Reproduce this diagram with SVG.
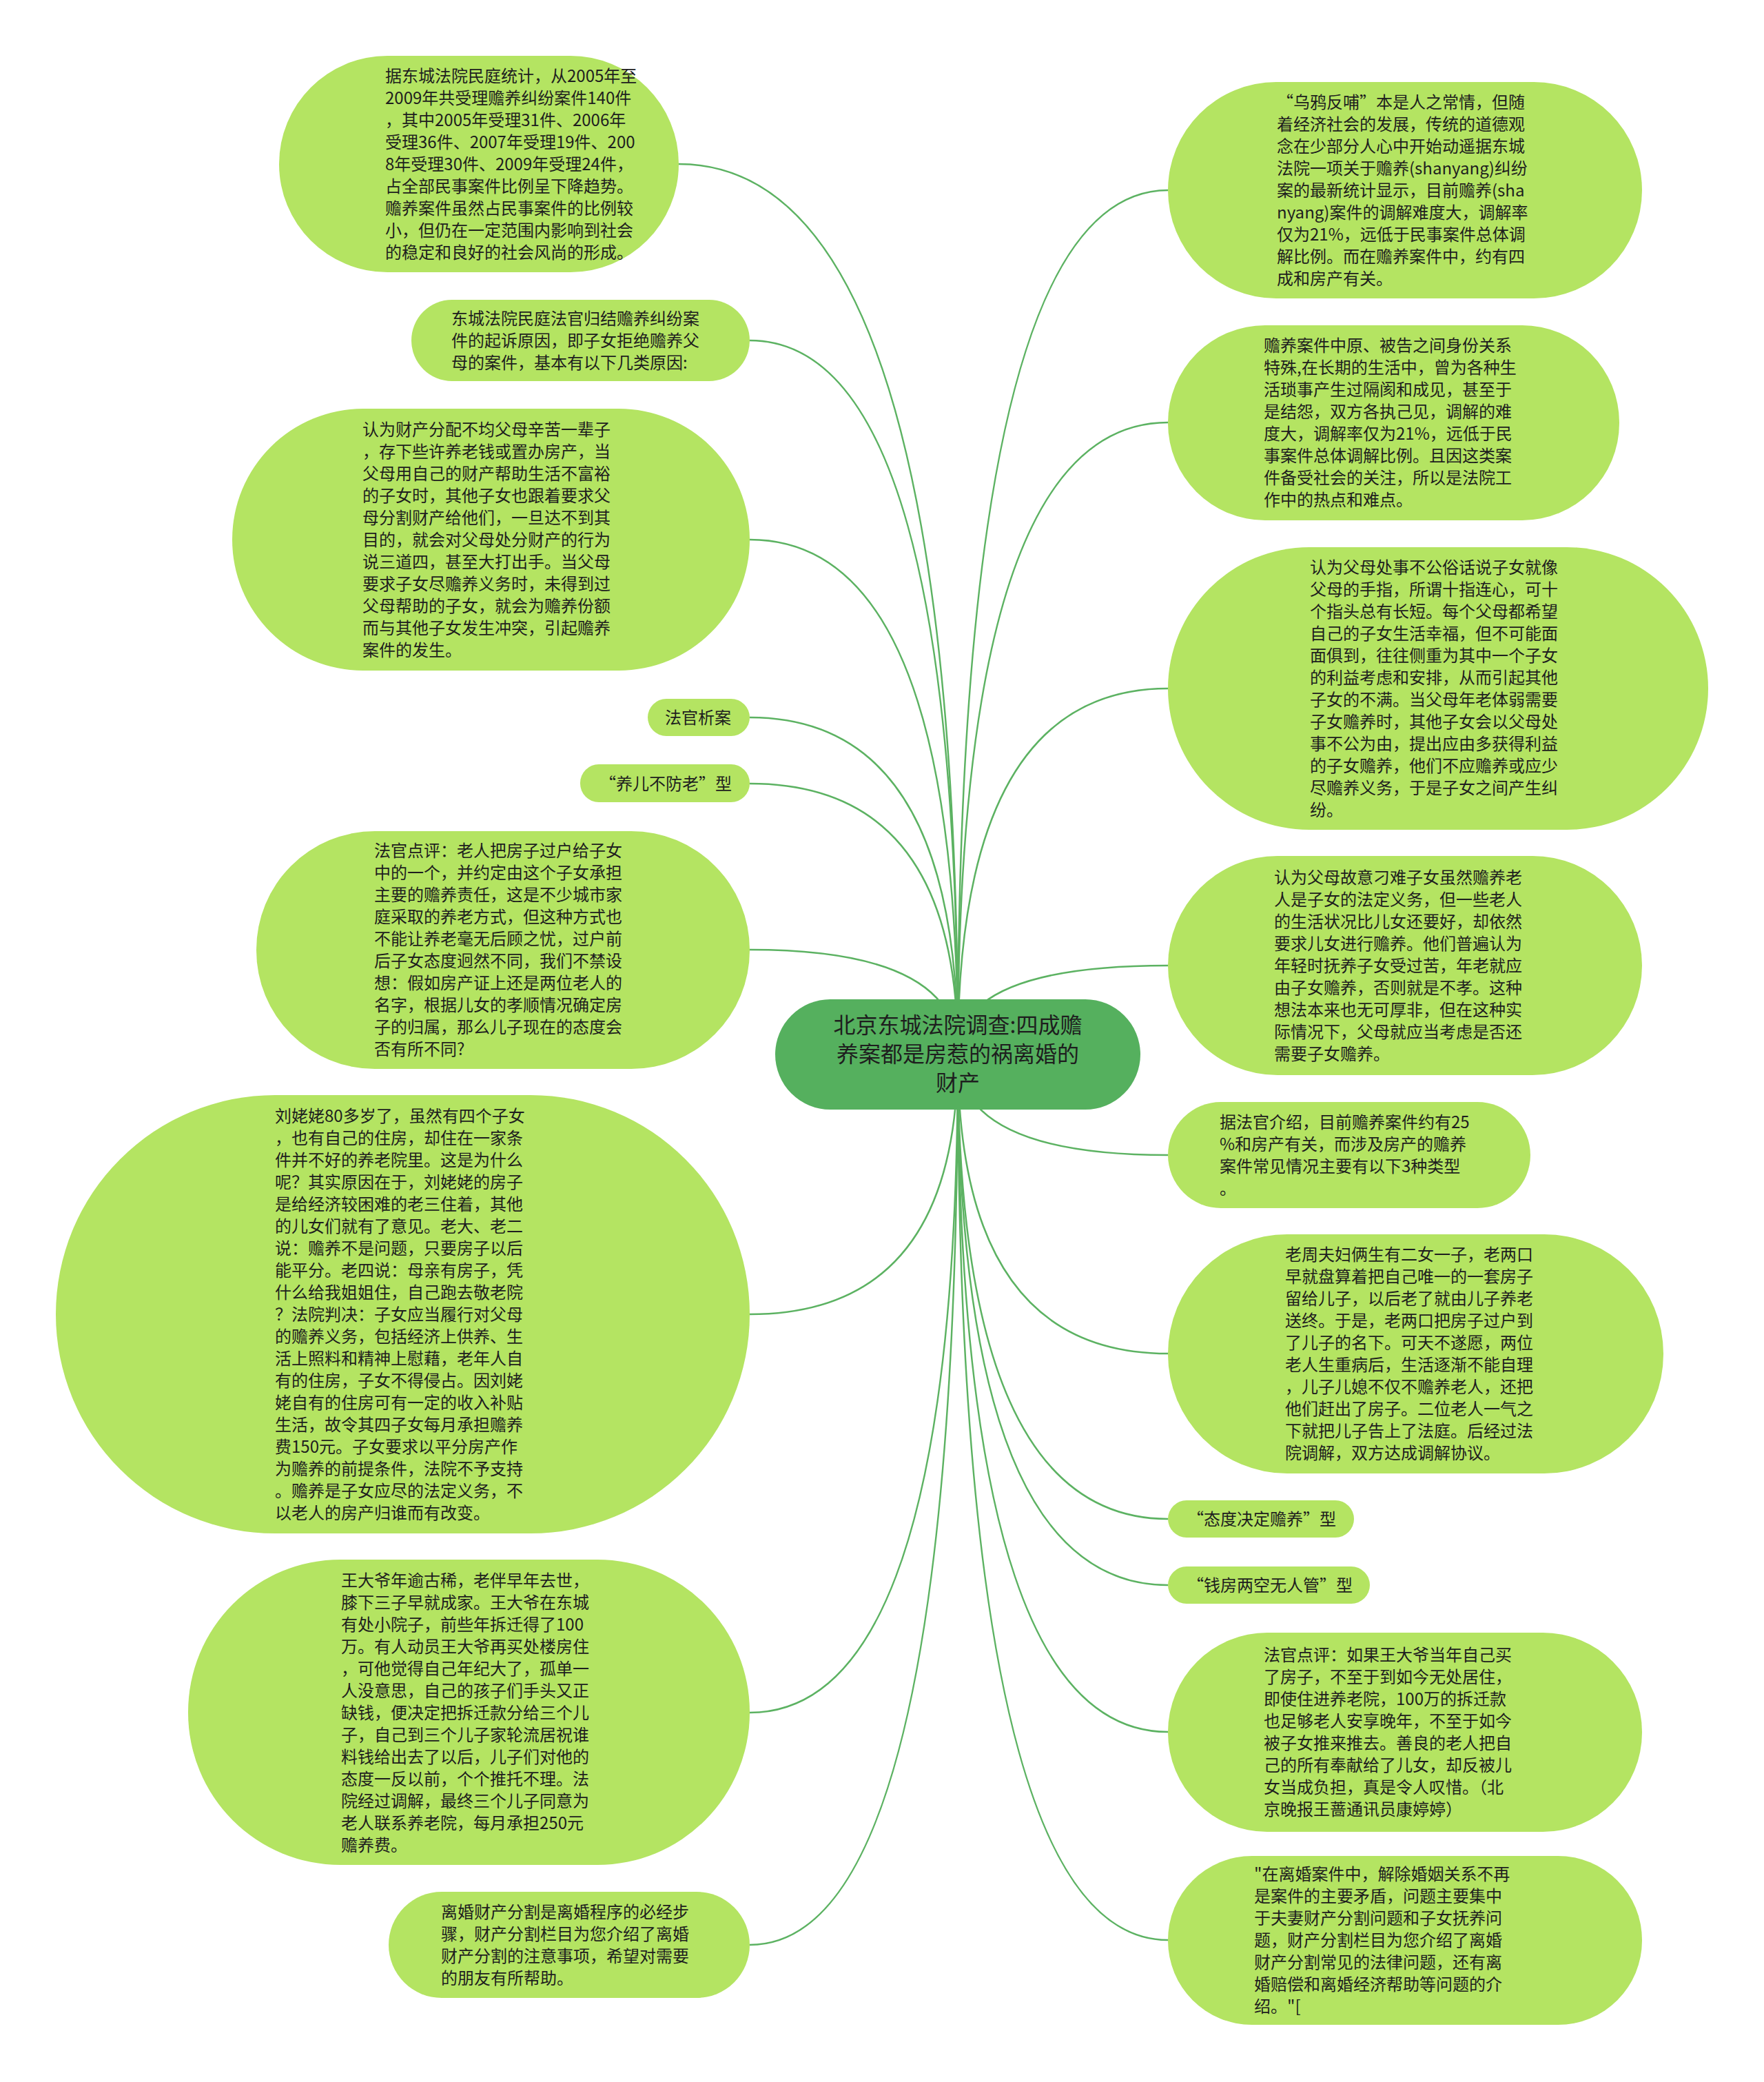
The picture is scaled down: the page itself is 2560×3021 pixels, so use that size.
<svg xmlns="http://www.w3.org/2000/svg" width="2560" height="3021" viewBox="0 0 2560 3021">
<style>
.bg{fill:#ffffff}
.n{fill:#b4e462}
.root{fill:#55b05e}
.t{font-family:"Noto Sans CJK SC","Noto Sans",sans-serif;font-size:24px;fill:#1e1e1e}
.rt{font-family:"Noto Sans CJK SC","Noto Sans",sans-serif;font-size:32px;fill:#1e1e1e;text-anchor:middle}
.e{fill:none;stroke:#5cb262;stroke-width:2.5}
</style>
<rect class="bg" x="0" y="0" width="2560" height="3021"/>
<g id="connectors">
<path class="e" d="M1390 1529 Q1390 238 985 238"/>
<path class="e" d="M1390 1529 Q1390 494 1088 494"/>
<path class="e" d="M1390 1529 Q1390 783 1088 783"/>
<path class="e" d="M1390 1529 Q1390 1041 1088 1041"/>
<path class="e" d="M1390 1529 Q1390 1137 1088 1137"/>
<path class="e" d="M1390 1529 Q1390 1378 1088 1378"/>
<path class="e" d="M1390 1529 Q1390 1907 1088 1907"/>
<path class="e" d="M1390 1529 Q1390 2485 1088 2485"/>
<path class="e" d="M1390 1529 Q1390 2822 1088 2822"/>
<path class="e" d="M1390 1529 Q1390 276 1695 276"/>
<path class="e" d="M1390 1529 Q1390 613 1695 613"/>
<path class="e" d="M1390 1529 Q1390 999 1695 999"/>
<path class="e" d="M1390 1529 Q1390 1401 1695 1401"/>
<path class="e" d="M1390 1529 Q1390 1676 1695 1676"/>
<path class="e" d="M1390 1529 Q1390 1964 1695 1964"/>
<path class="e" d="M1390 1529 Q1390 2204 1695 2204"/>
<path class="e" d="M1390 1529 Q1390 2300 1695 2300"/>
<path class="e" d="M1390 1529 Q1390 2513 1695 2513"/>
<path class="e" d="M1390 1529 Q1390 2815 1695 2815"/>
</g>

<g id="root">
<rect class="root" x="1125" y="1450" width="530" height="160" rx="80" ry="80"/>
<text class="rt"><tspan x="1390" y="1499">北京东城法院调查:四成赡</tspan><tspan x="1390" y="1541">养案都是房惹的祸离婚的</tspan><tspan x="1390" y="1583">财产</tspan></text>
</g>

<g id="L1">
<rect class="n" x="405" y="81" width="580" height="314" rx="157" ry="157"/>
<text class="t"><tspan x="559" y="119">据东城法院民庭统计，从2005年至</tspan><tspan x="559" y="151">2009年共受理赡养纠纷案件140件</tspan><tspan x="559" y="183">，其中2005年受理31件、2006年</tspan><tspan x="559" y="215">受理36件、2007年受理19件、200</tspan><tspan x="559" y="247">8年受理30件、2009年受理24件，</tspan><tspan x="559" y="279">占全部民事案件比例呈下降趋势。</tspan><tspan x="559" y="311">赡养案件虽然占民事案件的比例较</tspan><tspan x="559" y="343">小，但仍在一定范围内影响到社会</tspan><tspan x="559" y="375">的稳定和良好的社会风尚的形成。</tspan></text>
</g>

<g id="L2">
<rect class="n" x="597" y="435" width="491" height="118" rx="59" ry="59"/>
<text class="t"><tspan x="655" y="471">东城法院民庭法官归结赡养纠纷案</tspan><tspan x="655" y="503">件的起诉原因，即子女拒绝赡养父</tspan><tspan x="655" y="535">母的案件，基本有以下几类原因:</tspan></text>
</g>

<g id="L3">
<rect class="n" x="337" y="593" width="751" height="380" rx="190" ry="190"/>
<text class="t"><tspan x="526" y="632">认为财产分配不均父母辛苦一辈子</tspan><tspan x="526" y="664">，存下些许养老钱或置办房产，当</tspan><tspan x="526" y="696">父母用自己的财产帮助生活不富裕</tspan><tspan x="526" y="728">的子女时，其他子女也跟着要求父</tspan><tspan x="526" y="760">母分割财产给他们，一旦达不到其</tspan><tspan x="526" y="792">目的，就会对父母处分财产的行为</tspan><tspan x="526" y="824">说三道四，甚至大打出手。当父母</tspan><tspan x="526" y="856">要求子女尽赡养义务时，未得到过</tspan><tspan x="526" y="888">父母帮助的子女，就会为赡养份额</tspan><tspan x="526" y="920">而与其他子女发生冲突，引起赡养</tspan><tspan x="526" y="952">案件的发生。</tspan></text>
</g>

<g id="L4">
<rect class="n" x="940" y="1014" width="148" height="54" rx="27" ry="27"/>
<text class="t" x="965" y="1050">法官析案</text>
</g>

<g id="L5">
<rect class="n" x="842" y="1109" width="246" height="55" rx="27" ry="27"/>
<text class="t" x="870" y="1146">“养儿不防老”型</text>
</g>

<g id="L6">
<rect class="n" x="372" y="1206" width="716" height="345" rx="172" ry="172"/>
<text class="t"><tspan x="543" y="1243">法官点评：老人把房子过户给子女</tspan><tspan x="543" y="1275">中的一个，并约定由这个子女承担</tspan><tspan x="543" y="1307">主要的赡养责任，这是不少城市家</tspan><tspan x="543" y="1339">庭采取的养老方式，但这种方式也</tspan><tspan x="543" y="1371">不能让养老毫无后顾之忧，过户前</tspan><tspan x="543" y="1403">后子女态度迥然不同，我们不禁设</tspan><tspan x="543" y="1435">想：假如房产证上还是两位老人的</tspan><tspan x="543" y="1467">名字，根据儿女的孝顺情况确定房</tspan><tspan x="543" y="1499">子的归属，那么儿子现在的态度会</tspan><tspan x="543" y="1531">否有所不同?</tspan></text>
</g>

<g id="L7">
<rect class="n" x="81" y="1589" width="1007" height="636" rx="318" ry="318"/>
<text class="t"><tspan x="399" y="1628">刘姥姥80多岁了，虽然有四个子女</tspan><tspan x="399" y="1660">，也有自己的住房，却住在一家条</tspan><tspan x="399" y="1692">件并不好的养老院里。这是为什么</tspan><tspan x="399" y="1724">呢？其实原因在于，刘姥姥的房子</tspan><tspan x="399" y="1756">是给经济较困难的老三住着，其他</tspan><tspan x="399" y="1788">的儿女们就有了意见。老大、老二</tspan><tspan x="399" y="1820">说：赡养不是问题，只要房子以后</tspan><tspan x="399" y="1852">能平分。老四说：母亲有房子，凭</tspan><tspan x="399" y="1884">什么给我姐姐住，自己跑去敬老院</tspan><tspan x="399" y="1916">？法院判决：子女应当履行对父母</tspan><tspan x="399" y="1948">的赡养义务，包括经济上供养、生</tspan><tspan x="399" y="1980">活上照料和精神上慰藉，老年人自</tspan><tspan x="399" y="2012">有的住房，子女不得侵占。因刘姥</tspan><tspan x="399" y="2044">姥自有的住房可有一定的收入补贴</tspan><tspan x="399" y="2076">生活，故令其四子女每月承担赡养</tspan><tspan x="399" y="2108">费150元。子女要求以平分房产作</tspan><tspan x="399" y="2140">为赡养的前提条件，法院不予支持</tspan><tspan x="399" y="2172">。赡养是子女应尽的法定义务，不</tspan><tspan x="399" y="2204">以老人的房产归谁而有改变。</tspan></text>
</g>

<g id="L8">
<rect class="n" x="273" y="2263" width="815" height="443" rx="221" ry="221"/>
<text class="t"><tspan x="495" y="2302">王大爷年逾古稀，老伴早年去世，</tspan><tspan x="495" y="2334">膝下三子早就成家。王大爷在东城</tspan><tspan x="495" y="2366">有处小院子，前些年拆迁得了100</tspan><tspan x="495" y="2398">万。有人动员王大爷再买处楼房住</tspan><tspan x="495" y="2430">，可他觉得自己年纪大了，孤单一</tspan><tspan x="495" y="2462">人没意思，自己的孩子们手头又正</tspan><tspan x="495" y="2494">缺钱，便决定把拆迁款分给三个儿</tspan><tspan x="495" y="2526">子，自己到三个儿子家轮流居祝谁</tspan><tspan x="495" y="2558">料钱给出去了以后，儿子们对他的</tspan><tspan x="495" y="2590">态度一反以前，个个推托不理。法</tspan><tspan x="495" y="2622">院经过调解，最终三个儿子同意为</tspan><tspan x="495" y="2654">老人联系养老院，每月承担250元</tspan><tspan x="495" y="2686">赡养费。</tspan></text>
</g>

<g id="L9">
<rect class="n" x="564" y="2745" width="524" height="154" rx="77" ry="77"/>
<text class="t"><tspan x="640" y="2783">离婚财产分割是离婚程序的必经步</tspan><tspan x="640" y="2815">骤，财产分割栏目为您介绍了离婚</tspan><tspan x="640" y="2847">财产分割的注意事项，希望对需要</tspan><tspan x="640" y="2879">的朋友有所帮助。</tspan></text>
</g>

<g id="R1">
<rect class="n" x="1695" y="119" width="688" height="314" rx="157" ry="157"/>
<text class="t"><tspan x="1853" y="157">“乌鸦反哺”本是人之常情，但随</tspan><tspan x="1853" y="189">着经济社会的发展，传统的道德观</tspan><tspan x="1853" y="221">念在少部分人心中开始动遥据东城</tspan><tspan x="1853" y="253">法院一项关于赡养(shanyang)纠纷</tspan><tspan x="1853" y="285">案的最新统计显示，目前赡养(sha</tspan><tspan x="1853" y="317">nyang)案件的调解难度大，调解率</tspan><tspan x="1853" y="349">仅为21%，远低于民事案件总体调</tspan><tspan x="1853" y="381">解比例。而在赡养案件中，约有四</tspan><tspan x="1853" y="413">成和房产有关。</tspan></text>
</g>

<g id="R2">
<rect class="n" x="1695" y="472" width="655" height="283" rx="141" ry="141"/>
<text class="t"><tspan x="1834" y="510">赡养案件中原、被告之间身份关系</tspan><tspan x="1834" y="542">特殊,在长期的生活中，曾为各种生</tspan><tspan x="1834" y="574">活琐事产生过隔阂和成见，甚至于</tspan><tspan x="1834" y="606">是结怨，双方各执己见，调解的难</tspan><tspan x="1834" y="638">度大，调解率仅为21%，远低于民</tspan><tspan x="1834" y="670">事案件总体调解比例。且因这类案</tspan><tspan x="1834" y="702">件备受社会的关注，所以是法院工</tspan><tspan x="1834" y="734">作中的热点和难点。</tspan></text>
</g>

<g id="R3">
<rect class="n" x="1695" y="794" width="784" height="410" rx="205" ry="205"/>
<text class="t"><tspan x="1901" y="832">认为父母处事不公俗话说子女就像</tspan><tspan x="1901" y="864">父母的手指，所谓十指连心，可十</tspan><tspan x="1901" y="896">个指头总有长短。每个父母都希望</tspan><tspan x="1901" y="928">自己的子女生活幸福，但不可能面</tspan><tspan x="1901" y="960">面俱到，往往侧重为其中一个子女</tspan><tspan x="1901" y="992">的利益考虑和安排，从而引起其他</tspan><tspan x="1901" y="1024">子女的不满。当父母年老体弱需要</tspan><tspan x="1901" y="1056">子女赡养时，其他子女会以父母处</tspan><tspan x="1901" y="1088">事不公为由，提出应由多获得利益</tspan><tspan x="1901" y="1120">的子女赡养，他们不应赡养或应少</tspan><tspan x="1901" y="1152">尽赡养义务，于是子女之间产生纠</tspan><tspan x="1901" y="1184">纷。</tspan></text>
</g>

<g id="R4">
<rect class="n" x="1695" y="1242" width="688" height="318" rx="159" ry="159"/>
<text class="t"><tspan x="1849" y="1282">认为父母故意刁难子女虽然赡养老</tspan><tspan x="1849" y="1314">人是子女的法定义务，但一些老人</tspan><tspan x="1849" y="1346">的生活状况比儿女还要好，却依然</tspan><tspan x="1849" y="1378">要求儿女进行赡养。他们普遍认为</tspan><tspan x="1849" y="1410">年轻时抚养子女受过苦，年老就应</tspan><tspan x="1849" y="1442">由子女赡养，否则就是不孝。这种</tspan><tspan x="1849" y="1474">想法本来也无可厚非，但在这种实</tspan><tspan x="1849" y="1506">际情况下，父母就应当考虑是否还</tspan><tspan x="1849" y="1538">需要子女赡养。</tspan></text>
</g>

<g id="R5">
<rect class="n" x="1695" y="1599" width="526" height="154" rx="77" ry="77"/>
<text class="t"><tspan x="1770" y="1637">据法官介绍，目前赡养案件约有25</tspan><tspan x="1770" y="1669">%和房产有关，而涉及房产的赡养</tspan><tspan x="1770" y="1701">案件常见情况主要有以下3种类型</tspan><tspan x="1770" y="1733">。</tspan></text>
</g>

<g id="R6">
<rect class="n" x="1695" y="1791" width="719" height="347" rx="173" ry="173"/>
<text class="t"><tspan x="1865" y="1829">老周夫妇俩生有二女一子，老两口</tspan><tspan x="1865" y="1861">早就盘算着把自己唯一的一套房子</tspan><tspan x="1865" y="1893">留给儿子，以后老了就由儿子养老</tspan><tspan x="1865" y="1925">送终。于是，老两口把房子过户到</tspan><tspan x="1865" y="1957">了儿子的名下。可天不遂愿，两位</tspan><tspan x="1865" y="1989">老人生重病后，生活逐渐不能自理</tspan><tspan x="1865" y="2021">，儿子儿媳不仅不赡养老人，还把</tspan><tspan x="1865" y="2053">他们赶出了房子。二位老人一气之</tspan><tspan x="1865" y="2085">下就把儿子告上了法庭。后经过法</tspan><tspan x="1865" y="2117">院调解，双方达成调解协议。</tspan></text>
</g>

<g id="R7">
<rect class="n" x="1695" y="2177" width="270" height="54" rx="27" ry="27"/>
<text class="t" x="1723" y="2213">“态度决定赡养”型</text>
</g>

<g id="R8">
<rect class="n" x="1695" y="2273" width="293" height="54" rx="27" ry="27"/>
<text class="t" x="1723" y="2309">“钱房两空无人管”型</text>
</g>

<g id="R9">
<rect class="n" x="1695" y="2369" width="688" height="289" rx="144" ry="144"/>
<text class="t"><tspan x="1834" y="2410">法官点评：如果王大爷当年自己买</tspan><tspan x="1834" y="2442">了房子，不至于到如今无处居住，</tspan><tspan x="1834" y="2474">即使住进养老院，100万的拆迁款</tspan><tspan x="1834" y="2506">也足够老人安享晚年，不至于如今</tspan><tspan x="1834" y="2538">被子女推来推去。善良的老人把自</tspan><tspan x="1834" y="2570">己的所有奉献给了儿女，却反被儿</tspan><tspan x="1834" y="2602">女当成负担，真是令人叹惜。（北</tspan><tspan x="1834" y="2634">京晚报王蔷通讯员康婷婷）</tspan></text>
</g>

<g id="R10">
<rect class="n" x="1695" y="2693" width="688" height="245" rx="122" ry="122"/>
<text class="t"><tspan x="1820" y="2728">"在离婚案件中，解除婚姻关系不再</tspan><tspan x="1820" y="2760">是案件的主要矛盾，问题主要集中</tspan><tspan x="1820" y="2792">于夫妻财产分割问题和子女抚养问</tspan><tspan x="1820" y="2824">题，财产分割栏目为您介绍了离婚</tspan><tspan x="1820" y="2856">财产分割常见的法律问题，还有离</tspan><tspan x="1820" y="2888">婚赔偿和离婚经济帮助等问题的介</tspan><tspan x="1820" y="2920">绍。"[</tspan></text>
</g>
</svg>
